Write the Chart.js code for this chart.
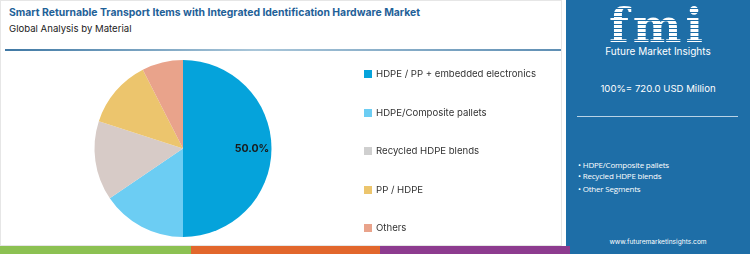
<!DOCTYPE html>
<html>
<head>
<meta charset="utf-8">
<script src="https://cdn.jsdelivr.net/npm/chart.js@4.4.0/dist/chart.umd.min.js"></script>
<style>
  body { margin: 0; width: 750px; height: 254px; overflow: hidden; background: #fff; font-family: Inter, "Open Sans", sans-serif; position: relative; }
  .card { position: absolute; left: 0; top: 0; width: 562px; height: 246px; background: #fff; border: 1px solid #e6e6e6; box-sizing: border-box; }
  .title { position: absolute; left: 8px; top: 5px; font-size: 10.4px; font-weight: 700; color: #1f6198; }
  .subtitle { position: absolute; left: 8px; top: 22px; font-size: 9.6px; color: #222; }
  .rule { position: absolute; left: 4px; top: 48px; width: 556px; height: 2px; background: linear-gradient(to right, #3f78a4, #a9c6d9 45%, #5f8fb4); }
  #chartWrap { position: absolute; left: 0; top: 50px; width: 366px; height: 196px; }
  .legend { position: absolute; left: 364px; top: 67px; font-size: 9.6px; color: #333; }
  .legend div { height: 38.6px; display: flex; align-items: flex-start; line-height: 14px; }
  .legend span.box { width: 8px; height: 8px; margin: 3px 4px 0 0; display: inline-block; }
  .panel { position: absolute; left: 566px; top: 0; width: 184px; height: 246px; background: #1e6ea7; color: #fff; font-family: "Open Sans", sans-serif; }
  .logo { position: absolute; left: 0; width: 184px; top: 5px; height: 42px; text-align: center; font-family: "DejaVu Serif", serif; font-weight: 700; font-size: 46px; line-height: 42px; letter-spacing: 4px;
          background: repeating-linear-gradient(to bottom, #fff 0 3px, #1e6ea7 3px 4px); -webkit-background-clip: text; color: transparent; }
  .brand { position: absolute; left: 0; width: 184px; top: 45px; text-align: center; font-size: 10px; font-family: Inter, sans-serif; }
  .total { position: absolute; left: 0; width: 184px; top: 83px; text-align: center; font-size: 9.6px; font-family: Inter, sans-serif; }
  .pline { position: absolute; left: 11px; top: 116px; width: 161px; height: 1px; background: #b9d3e6; }
  .bullets { position: absolute; left: 12px; top: 159px; font-size: 8px; line-height: 11px; letter-spacing: -0.2px; }
  .bullets div:nth-child(3) { margin-top: 2px; }
  .url { position: absolute; left: 0; width: 184px; top: 238px; text-align: center; font-size: 6.6px; font-family: Inter, sans-serif; }
  .strip { position: absolute; top: 246px; height: 8px; }
</style>
</head>
<body>
<div class="card">
  <div class="title">Smart Returnable Transport Items with Integrated Identification Hardware Market</div>
  <div class="subtitle">Global Analysis by Material</div>
  <div class="rule"></div>
</div>
<div id="chartWrap"><canvas id="pieChart"></canvas></div>
<div class="legend" id="legend"></div>

<div class="panel">
  <div class="logo">fmi</div>
  <div class="brand">Future Market Insights</div>
  <div class="total">100%= 720.0 USD Million</div>
  <div class="pline"></div>
  <div class="bullets">
    <div>&bull; HDPE/Composite pallets</div>
    <div>&bull; Recycled HDPE blends</div>
    <div>&bull; Other Segments</div>
  </div>
  <div class="url">www.futuremarketinsights.com</div>
</div>
<div class="strip" style="left:0;width:191px;background:#8cc152"></div>
<div class="strip" style="left:191px;width:189px;background:#e2672c"></div>
<div class="strip" style="left:380px;width:190px;background:#8d3b8f"></div>
<div class="strip" style="left:570px;width:180px;background:#1e6ea7"></div>

<script>
const categories = ['HDPE / PP + embedded electronics', 'HDPE/Composite pallets', 'Recycled HDPE blends', 'PP / HDPE', 'Others'];
const shares = [50.0, 15.5, 14.5, 12.5, 7.5];
const sliceColors = ['#05a3db', '#6ccdf3', '#d7cbc7', '#ecc56d', '#e9a38b'];
const legendColors = ['#05a3db', '#6ccdf3', '#cfcfcf', '#ecc56d', '#e9a38b'];

// percent label on the big slice only
const sliceLabels = {
  id: 'sliceLabels',
  afterDatasetsDraw(chart) {
    const ctx = chart.ctx;
    const meta = chart.getDatasetMeta(0);
    ctx.save();
    ctx.font = 'bold 10.5px Inter, sans-serif';
    ctx.fillStyle = '#1a1a1a';
    ctx.textAlign = 'center';
    ctx.textBaseline = 'middle';
    meta.data.forEach((arc, i) => {
      if (shares[i] < 20) return;
      const p = arc.getProps(['x', 'y', 'startAngle', 'endAngle', 'outerRadius'], true);
      const mid = (p.startAngle + p.endAngle) / 2;
      const r = p.outerRadius * 0.78;
      ctx.fillText(shares[i].toFixed(1) + '%', p.x + Math.cos(mid) * r, p.y + Math.sin(mid) * r);
    });
    ctx.restore();
  }
};

new Chart(document.getElementById('pieChart'), {
  type: 'pie',
  data: {
    labels: categories,
    datasets: [{
      data: shares,
      backgroundColor: sliceColors,
      borderWidth: 0
    }]
  },
  options: {
    responsive: true,
    maintainAspectRatio: false,
    animation: false,
    layout: { padding: { top: 10, bottom: 9 } },
    plugins: {
      legend: { display: false },
      tooltip: { enabled: false }
    }
  },
  plugins: [sliceLabels]
});

// legend
const legend = document.getElementById('legend');
categories.forEach((c, i) => {
  const row = document.createElement('div');
  row.innerHTML = '<span class="box" style="background:' + legendColors[i] + '"></span>' + c;
  legend.appendChild(row);
});
</script>
</body>
</html>
